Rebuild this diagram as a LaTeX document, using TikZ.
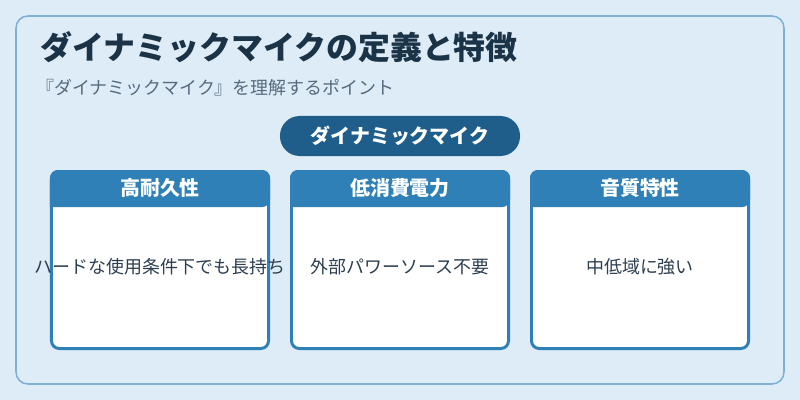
\documentclass[tikz,border=0pt]{standalone}
\usepackage{fontspec}
\setmainfont{Noto Sans CJK JP}
\usetikzlibrary{calc,positioning}

\definecolor{pagebg}{HTML}{DDECF7}
\definecolor{frameline}{HTML}{7DB2D6}
\definecolor{titlecol}{HTML}{1B3346}
\definecolor{subcol}{HTML}{566B7E}
\definecolor{pillcol}{HTML}{1F5E8A}
\definecolor{cardcol}{HTML}{2E80B6}
\definecolor{bodycol}{HTML}{2C3E50}

\begin{document}
\begin{tikzpicture}[x=0.025cm,y=-0.025cm,
  card/.style={draw=cardcol,line width=2.1pt,fill=white,rounded corners=5.5pt,minimum width=5.425cm,minimum height=4.425cm,inner sep=0pt},
  headtext/.style={text=white,font=\fontsize{14.2pt}{17pt}\selectfont\bfseries,inner sep=0pt},
  bodytext/.style={text=bodycol,font=\fontsize{12.76pt}{15pt}\selectfont,inner sep=0pt}]
\useasboundingbox (0,0) rectangle (800,400);
\fill[pagebg] (0,0) rectangle (800,400);
\draw[frameline,line width=1.1pt,rounded corners=8.5pt] (16,16) rectangle (784,384);
% title block
\node[anchor=west,text=titlecol,font=\fontsize{22.7pt}{27pt}\selectfont\bfseries,inner sep=0pt] (title) at (40,47) {ダイナミックマイクの定義と特徴};
\node[anchor=west,text=subcol,font=\fontsize{12.76pt}{15pt}\selectfont,inner sep=0pt] (subtitle) at (36,88) {『ダイナミックマイク』を理解するポイント};
\node[fill=pillcol,rounded corners=14pt,minimum width=6cm,minimum height=1cm,text=white,font=\fontsize{14.2pt}{17pt}\selectfont\bfseries,inner sep=0pt] (pill) at (400,136) {ダイナミックマイク};
% three feature cards
\foreach \i/\cx/\head/\body in {1/160/高耐久性/ハードな使用条件下でも長持ち,2/400/低消費電力/外部パワーソース不要,3/640/音質特性/中低域に強い}{
  \node[card] (card\i) at (\cx,260) {};
  \fill[cardcol] ($(card\i.north west)+(0,37)$) [rounded corners=5.5pt] |- (card\i.north) -| ($(card\i.north east)+(0,37)$) [sharp corners] -- cycle;
  \node[headtext] (head\i) at ($(card\i.north)+(0,18)$) {\head};
  \node[bodytext] (body\i) at (\cx,267) {\body};
}
\end{tikzpicture}
\end{document}
